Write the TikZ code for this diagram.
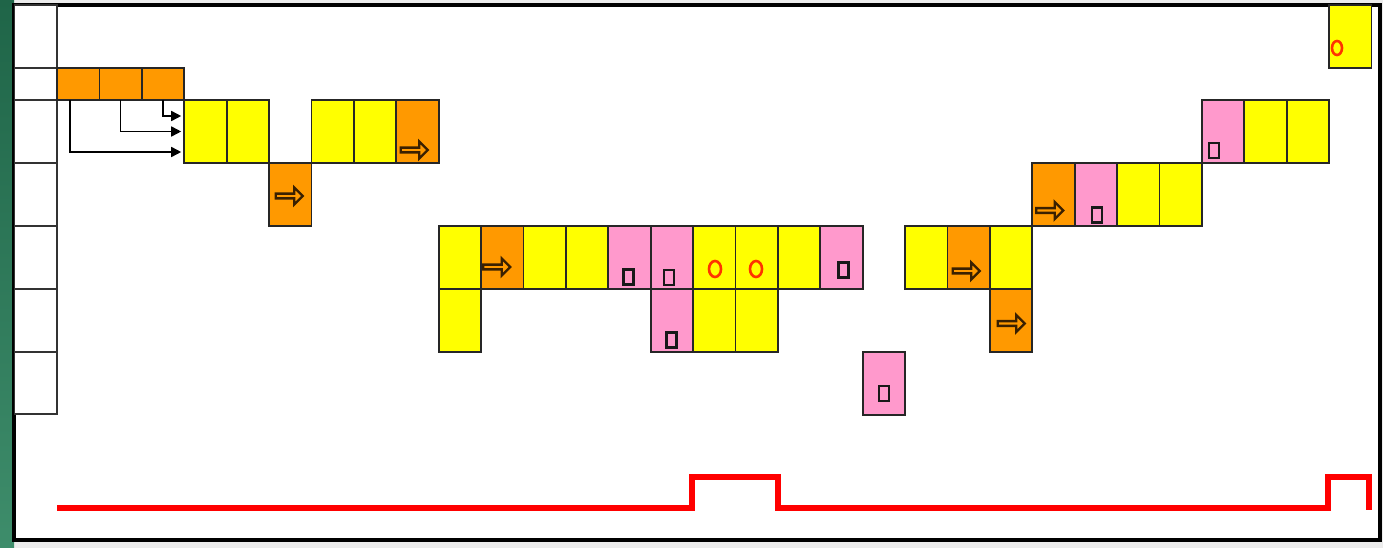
\documentclass[tikz,border=0pt]{standalone}
\usetikzlibrary{arrows.meta,shapes.arrows,shapes.geometric}
\definecolor{byel}{HTML}{FFFF00}
\definecolor{bor}{HTML}{FF9900}
\definecolor{bpink}{HTML}{FF99CC}
\definecolor{bgreenA}{HTML}{1F6548}
\definecolor{bgreenB}{HTML}{3E8D6B}
\definecolor{bgray}{HTML}{ECECEC}
\definecolor{abrown}{HTML}{3A2000}
\definecolor{cred}{HTML}{FF3300}
\begin{document}
\begin{tikzpicture}[x=1pt,y=-1pt,
  cell/.style={draw=black!85, line width=1.8pt, minimum width=42.4pt, minimum height=63pt, anchor=north west, inner sep=0pt, outer sep=0pt},
  shortcell/.style={cell, minimum height=32pt},
  yel/.style={cell, fill=byel},
  org/.style={cell, fill=bor},
  pnk/.style={cell, fill=bpink},
  lab/.style={draw=black!80, line width=1.8pt, fill=white, minimum width=42.5pt, anchor=north west, inner sep=0pt, outer sep=0pt},
  flow/.style={draw=black, line width=1.6pt, -{Triangle[length=10pt,width=10pt]}, shorten >=3pt},
  bigarrow/.style={single arrow, draw=abrown, line width=2.4pt, minimum width=17pt, minimum height=27pt, single arrow head extend=3pt, inner sep=0pt, fill=none},
  mark sq/.style={draw=black!90, line width=2.4pt, minimum width=10pt, minimum height=15pt, inner sep=0pt, fill=none},
  mark ci/.style={ellipse, draw=cred, line width=2.6pt, minimum width=12pt, minimum height=16pt, inner sep=0pt, fill=none},
  redline/.style={draw=red, line width=6pt, line join=miter}
]
\useasboundingbox (0,0) rectangle (1383,548);
% background
\fill[bgray] (0,0) rectangle (1383,548);
\shade[top color=bgreenA, bottom color=bgreenB] (0,0) rectangle (14,548);
\draw[fill=white, line width=3.5pt] (14,5) rectangle (1380,540);

% label column
\node[lab, minimum height=63pt] (L0) at (14.5,5) {};
\node[lab, minimum height=32pt] (L1) at (14.5,68) {};
\node[lab, minimum height=63pt] (L2) at (14.5,100) {};
\node[lab, minimum height=63pt] (L3) at (14.5,163) {};
\node[lab, minimum height=63pt] (L4) at (14.5,226) {};
\node[lab, minimum height=63pt] (L5) at (14.5,289) {};
\node[lab, minimum height=62pt] (L6) at (14.5,352) {};

% row 1 (orange, short)
\node[shortcell, fill=bor] (o1) at ({57+42.4*0},68) {};
\node[shortcell, fill=bor] (o2) at ({57+42.4*1},68) {};
\node[shortcell, fill=bor] (o3) at ({57+42.4*2},68) {};

% row 2
\node[yel] (r2c3) at ({57+42.4*3},100) {};
\node[yel] (r2c4) at ({57+42.4*4},100) {};
\node[yel] (r2c6) at ({57+42.4*6},100) {};
\node[yel] (r2c7) at ({57+42.4*7},100) {};
\node[org] (r2c8) at ({57+42.4*8},100) {};
\node[pnk] (r2c27) at ({57+42.4*27},100) {};
\node[yel] (r2c28) at ({57+42.4*28},100) {};
\node[yel] (r2c29) at ({57+42.4*29},100) {};

% row 0
\node[yel] (r0c30) at ({57+42.4*30},5) {};

% row 3
\node[org] (r3c5) at ({57+42.4*5},163) {};
\node[org] (r3c23) at ({57+42.4*23},163) {};
\node[pnk] (r3c24) at ({57+42.4*24},163) {};
\node[yel] (r3c25) at ({57+42.4*25},163) {};
\node[yel] (r3c26) at ({57+42.4*26},163) {};

% row 4
\node[yel] (r4c9) at ({57+42.4*9},226) {};
\node[org] (r4c10) at ({57+42.4*10},226) {};
\node[yel] (r4c11) at ({57+42.4*11},226) {};
\node[yel] (r4c12) at ({57+42.4*12},226) {};
\node[pnk] (r4c13) at ({57+42.4*13},226) {};
\node[pnk] (r4c14) at ({57+42.4*14},226) {};
\node[yel] (r4c15) at ({57+42.4*15},226) {};
\node[yel] (r4c16) at ({57+42.4*16},226) {};
\node[yel] (r4c17) at ({57+42.4*17},226) {};
\node[pnk] (r4c18) at ({57+42.4*18},226) {};
\node[yel] (r4c20) at ({57+42.4*20},226) {};
\node[org] (r4c21) at ({57+42.4*21},226) {};
\node[yel] (r4c22) at ({57+42.4*22},226) {};

% row 5
\node[yel] (r5c9) at ({57+42.4*9},289) {};
\node[pnk] (r5c14) at ({57+42.4*14},289) {};
\node[yel] (r5c15) at ({57+42.4*15},289) {};
\node[yel] (r5c16) at ({57+42.4*16},289) {};
\node[org] (r5c22) at ({57+42.4*22},289) {};

% row 6
\node[pnk] (r6c19) at ({57+42.4*19},352) {};

% connectors from row 1 to first yellow box
\draw[flow] ([xshift=-8pt]o1.south) |- ([yshift=-20.5pt]r2c3.west);
\draw[flow] (o2.south) |- (r2c3.west);
\draw[flow] (o3.south) |- ([yshift=15.5pt]r2c3.west);

% block arrow symbols
\node[bigarrow] (a1) at (413,150) {};
\node[bigarrow] (a2) at (288,196) {};
\node[bigarrow] (a3) at (495.5,267) {};
\node[bigarrow] (a4) at (965,271) {};
\node[bigarrow] (a5) at (1010,323.5) {};
\node[bigarrow] (a6) at (1048.5,210.5) {};

% square marks
\node[mark sq] (s1) at (628.5,277) {};
\node[mark sq] (s2) at (669,277.5) {};
\node[mark sq] (s3) at (671.5,340) {};
\node[mark sq] (s4) at (843.5,270) {};
\node[mark sq] (s5) at (884,393.5) {};
\node[mark sq] (s6) at (1097,215) {};
\node[mark sq] (s7) at (1214,150.5) {};

% circle marks
\node[mark ci] (c1) at (715,269) {};
\node[mark ci] (c2) at (756,269) {};
\node[mark ci, minimum width=10pt, minimum height=14pt] (c3) at (1337,48) {};

% red timeline
\draw[redline] (57,508) -- (692,508) -- (692,477) -- (778,477) -- (778,508) -- (1328,508) -- (1328,477) -- (1369,477) -- (1369,510);
\end{tikzpicture}
\end{document}
